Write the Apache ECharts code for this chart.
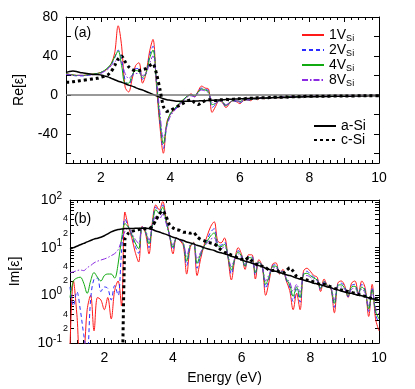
<!DOCTYPE html>
<html>
<head>
<meta charset="utf-8">
<script src="https://cdn.jsdelivr.net/npm/echarts@6/dist/echarts.min.js"></script>
<style>
html, body { margin: 0; padding: 0; background: #fff; }
#chart { width: 415px; height: 389px; }
</style>
</head>
<body>
<div id="chart"></div>
<script>
// photon energy (eV)
var energy = [
  1.0, 1.1, 1.2, 1.3, 1.4, 1.5, 1.6, 1.7, 1.8, 1.9,
  2.0, 2.1, 2.2, 2.3, 2.4, 2.5, 2.6, 2.7, 2.8, 2.9,
  3.0, 3.1, 3.2, 3.3, 3.4, 3.5, 3.6, 3.7, 3.8, 3.9,
  4.0, 4.1, 4.2, 4.3, 4.4, 4.5, 4.6, 4.7, 4.8, 4.9,
  5.0, 5.1, 5.2, 5.3, 5.4, 5.5, 5.6, 5.7, 5.8, 5.9,
  6.0, 6.1, 6.2, 6.3, 6.4, 6.5, 6.6, 6.7, 6.8, 6.9,
  7.0, 7.1, 7.2, 7.3, 7.4, 7.5, 7.6, 7.7, 7.8, 7.9,
  8.0, 8.1, 8.2, 8.3, 8.4, 8.5, 8.6, 8.7, 8.8, 8.9,
  9.0, 9.1, 9.2, 9.3, 9.4, 9.5, 9.6, 9.7, 9.8, 9.9,
  10.0
];

// ---- (a) Re[eps] ----
var v1Re = [
  22, 21, 20.5, 20, 20, 20, 20.5, 21, 21.5, 22,
  23, 24.5, 27, 32, 43, 71, 50, 8, 3, 16,
  30, 33, 12, 22, 44, 57, 10, -32, -60, -28,
  -20, -16, -12, -8, -4, -1, 1, -2, 4, 9,
  7, 6, -18, -12, -6, -8, -13, -9, -6, -7,
  -9, -6, -5, -6, -4, -5, -3, -4, -3, -3,
  -2, -3, -2, -2.5, -2, -1.5, -2, -1, -1.5, -1,
  -1.5, -1, -1, -1.5, -1, -1, -0.5, -1.2, -0.5, -1,
  -0.5, -1, -0.5, -0.5, -1, -0.5, -0.5, -0.8, -0.3, -0.5,
  -0.3
];
var v2Re = [
  21, 20.5, 20, 19.5, 19.5, 19.5, 20, 20.5, 21, 22,
  23, 24.5, 27, 31, 38, 46, 36, 15, 10, 18,
  27, 27, 16, 22, 40, 50, 12, -28, -55, -32,
  -20, -16, -12, -8, -4, -1, 0, -2, 3, 7,
  6, 4, -13, -10, -6, -8, -12, -8, -6, -7,
  -8, -6, -5, -5.5, -4, -4.5, -3, -4, -3, -3,
  -2, -2.8, -2, -2.3, -2, -1.5, -2, -1.2, -1.5, -1,
  -1.5, -1, -1, -1.4, -1, -1, -0.6, -1.1, -0.6, -1,
  -0.6, -0.9, -0.5, -0.6, -0.9, -0.5, -0.5, -0.7, -0.4, -0.5,
  -0.3
];
var v4Re = [
  22, 21, 20.5, 20, 20, 20, 20.5, 21, 21.5, 22,
  23, 25, 28, 32, 39, 45, 30, 12, 12, 20,
  25, 24, 18, 22, 37, 46, 14, -24, -50, -30,
  -19, -15, -11, -7, -4, -1, 0, -1, 3, 6,
  5, 3, -10, -9, -6, -7, -11, -8, -6, -6,
  -7, -5, -5, -5, -4, -4.5, -3, -3.8, -3, -3,
  -2, -2.7, -2, -2.2, -2, -1.6, -1.9, -1.2, -1.5, -1,
  -1.4, -1, -1, -1.3, -1, -1, -0.7, -1, -0.6, -0.9,
  -0.6, -0.9, -0.5, -0.6, -0.8, -0.5, -0.5, -0.7, -0.4, -0.5,
  -0.3
];
var v8Re = [
  21, 21, 20, 20, 20, 20, 20, 20.5, 21, 21.5,
  22, 24, 26, 30, 34, 36, 33, 22, 17, 20,
  22, 22, 20, 22, 32, 40, 16, -18, -44, -32,
  -22, -17, -13, -9, -5, -2, -1, -2, 2, 5,
  4, 2, -8, -9, -6, -7, -10, -8, -6, -6,
  -7, -5, -5, -5, -4, -4.2, -3, -3.6, -3, -3,
  -2.2, -2.6, -2, -2.2, -2, -1.7, -1.9, -1.3, -1.5, -1.1,
  -1.4, -1, -1, -1.3, -1, -1, -0.8, -1, -0.7, -0.9,
  -0.7, -0.9, -0.6, -0.6, -0.8, -0.5, -0.5, -0.7, -0.4, -0.5,
  -0.3
];
var aSiRe = [
  23, 24, 24.5, 24, 23, 22.5, 22, 21.5, 21, 21,
  20.5, 19.5, 18.5, 17, 15.5, 14, 13, 11.5, 10, 9,
  7.5, 6, 5, 3.5, 2, 0.5, -1, -2.5, -4, -5,
  -5.5, -6, -6.5, -6.5, -6.5, -6.5, -6.5, -6.3, -6.2, -6,
  -6, -5.8, -5.6, -5.4, -5.2, -5, -4.8, -4.6, -4.4, -4.2,
  -4, -3.9, -3.8, -3.6, -3.5, -3.4, -3.3, -3.2, -3.1, -3,
  -2.9, -2.8, -2.7, -2.6, -2.5, -2.4, -2.3, -2.2, -2.1, -2,
  -2, -1.9, -1.8, -1.8, -1.7, -1.6, -1.6, -1.5, -1.5, -1.4,
  -1.4, -1.3, -1.3, -1.2, -1.2, -1.1, -1.1, -1, -1, -1,
  -0.9
];
var cSiRe = [
  13, 13, 13.5, 14, 14.5, 15, 15.5, 16, 16.5, 17,
  18, 19, 20.5, 24, 30, 37, 40, 34, 29, 26,
  25, 25, 26, 27, 30, 32, 22, 6, -12, -17,
  -16, -14, -12, -10, -8, -6, -5, -8, -10, -8,
  -6, -5, -5, -6, -5, -5, -4.5, -5, -4.5, -4,
  -4, -4.5, -3.5, -3.5, -3.5, -3, -3, -3, -3, -2.5,
  -2.5, -2.5, -2.5, -2, -2.5, -2, -2, -2, -2, -1.5,
  -1.5, -1.5, -1.5, -1.5, -1.5, -1.5, -1.2, -1.2, -1.2, -1.2,
  -1.2, -1.2, -1.2, -1.2, -1, -1, -1, -1, -1, -1,
  -1
];

// ---- (b) Im[eps] ----
var v1Im = [
  0.08, 2.0, 0.4, 0.05, 0.06, 0.5, 1.0, 0.18, 0.9, 0.8,
  0.5, 0.9, 0.32, 1.25, 2.0, 0.6, 56, 28, 16, 8,
  5, 28, 20, 7.4, 35, 79, 62, 93, 40, 18,
  7.4, 16, 14, 11, 2.8, 10, 13, 2.6, 5.6, 11,
  18, 28, 35, 14, 12.6, 16, 6.3, 2.1, 5.6, 10,
  7.1, 3.5, 7.1, 7.1, 2.2, 5.6, 4.0, 1.0, 2.0, 4.5,
  4.8, 2.8, 3.5, 2.0, 1.26, 0.5, 1.1, 0.5, 3.2, 3.7,
  3.2, 2.6, 2.4, 1.2, 2.2, 1.6, 1.4, 0.43, 1.8, 2.0,
  1.6, 0.9, 1.8, 2.0, 1.1, 2.0, 1.4, 0.36, 1.7, 0.32,
  0.18
];
var v2Im = [
  1.5, 0.6, 1.2, 0.5, 0.15, 0.06, 0.8, 2.2, 2.3, 1.2,
  1.5, 1.4, 0.8, 1.6, 1.0, 8, 40, 27.5, 17.8, 10.7,
  7.6, 27.5, 21.4, 10, 32, 71, 56, 79, 40, 17.8,
  9.1, 15.8, 14.5, 12, 4.2, 10.7, 12.6, 3.7, 6.6, 10.7,
  15.1, 21.4, 25, 12.3, 11.2, 13.2, 6.5, 2.8, 5.8, 8.7,
  6.8, 3.9, 6.5, 6.5, 2.7, 5.2, 4.0, 1.4, 2.3, 4.2,
  4.4, 2.9, 3.4, 2.1, 1.5, 0.74, 1.35, 0.72, 2.9, 3.2,
  2.8, 2.4, 2.2, 1.3, 2.0, 1.6, 1.4, 0.56, 1.7, 1.8,
  1.5, 0.93, 1.6, 1.7, 1.1, 1.7, 1.26, 0.46, 1.45, 0.4,
  0.26
];
var v4Im = [
  0.9, 2.0, 2.3, 2.4, 1.8, 1.1, 2.0, 3.0, 2.4, 2.0,
  2.6, 2.8, 2.8, 2.3, 4.5, 15, 32, 27, 19, 12.6,
  9.5, 27, 22, 12, 30, 63, 52, 71, 35, 17.8,
  10.2, 15.8, 14.5, 12.3, 5.2, 11, 12.6, 4.7, 7.2, 10.5,
  13.8, 17.8, 20.4, 11.2, 10.5, 11.7, 6.6, 3.4, 5.9, 8.1,
  6.5, 4.1, 6.2, 6.0, 3.0, 5.0, 4.0, 1.7, 2.5, 4.0,
  4.1, 2.9, 3.2, 2.2, 1.66, 0.95, 1.5, 0.9, 2.7, 2.9,
  2.6, 2.3, 2.1, 1.4, 1.95, 1.55, 1.4, 0.68, 1.6, 1.66,
  1.4, 0.98, 1.5, 1.55, 1.07, 1.5, 1.2, 0.52, 1.3, 0.47,
  0.32
];
var v8Im = [
  3.0, 3.1, 3.3, 3.4, 3.3, 3.8, 4.2, 4.8, 5.2, 5.5,
  5.8, 6.2, 6.8, 7.5, 9, 14, 22, 26, 20, 15,
  12.3, 27, 23, 14.5, 29, 45, 40, 50, 32, 17.8,
  11.5, 15.8, 14.5, 12.6, 6.6, 11.5, 12.3, 5.8, 7.9, 10.5,
  12.6, 15.1, 16.2, 10.5, 9.5, 10.5, 6.8, 4.0, 6.0, 7.4,
  6.3, 4.4, 5.9, 5.6, 3.3, 4.8, 4.0, 2.0, 2.75, 3.8,
  3.8, 2.95, 3.2, 2.3, 1.9, 1.2, 1.7, 1.15, 2.5, 2.6,
  2.4, 2.1, 2.0, 1.45, 1.9, 1.55, 1.45, 0.8, 1.5, 1.5,
  1.35, 1.0, 1.35, 1.4, 1.05, 1.35, 1.1, 0.6, 1.2, 0.54,
  0.4
];
var aSiIm = [
  9.3, 10, 10.7, 11.5, 12.3, 13.2, 14.1, 15.1, 15.8, 16.6,
  17.8, 19.5, 21.4, 22.9, 24, 24.5, 25.1, 25.1, 25.1, 25.7,
  25.7, 25.7, 25.7, 25.1, 24, 22.4, 21.4, 20, 19, 17.8,
  16.6, 15.8, 14.8, 14.1, 13.2, 12.6, 12, 11.2, 10.7, 10,
  9.5, 9.1, 8.7, 8.1, 7.8, 7.4, 7.1, 6.6, 6.3, 5.9,
  5.6, 5.2, 5.0, 4.7, 4.5, 4.2, 4.0, 3.7, 3.5, 3.3,
  3.2, 3.0, 2.9, 2.7, 2.6, 2.45, 2.3, 2.2, 2.1, 2.0,
  1.9, 1.8, 1.74, 1.66, 1.58, 1.5, 1.45, 1.35, 1.3, 1.23,
  1.17, 1.12, 1.1, 1.05, 1.0, 0.98, 0.93, 0.89, 0.85, 0.83,
  0.8
];
var cSiIm = [
  null, null, null, null, null, null, null, null, null, null,
  null, null, null, null, null, 0.001, 15, 20, 22, 23,
  24, 25, 25, 25, 28, 38, 50, 60, 45, 30,
  26, 24, 23, 21, 21, 20, 21, 17, 15, 14,
  13, 12.5, 12, 10.5, 9, 8, 7.5, 7, 6.6, 6,
  5.7, 5.5, 6.2, 5.2, 4.6, 4.2, 4.1, 3.8, 3.4, 3.3,
  3.4, 3.1, 2.9, 3.3, 3.8, 3.2, 2.5, 2.3, 2.2, 2.1,
  2.0, 1.9, 1.8, 1.7, 1.7, 1.6, 1.5, 1.4, 1.35, 1.3,
  1.25, 1.2, 1.15, 1.1, 1.05, 1.0, 0.95, 0.9, 0.85, 0.82,
  0.8
];

// tick labels
var reTicks = [-40, 0, 40, 80];
var reMinor = [-60, -40, -20, 0, 20, 40, 60, 80];
var imDecades = [-1, 0, 1, 2];
var imSub = [2, 4];

var FONT = '"Liberation Sans", Arial, sans-serif';

function pts(ys, isLog) {
  return energy.map(function (e, i) {
    var v = ys[i];
    if (v == null) return [e, null];
    return [e, isLog ? Math.log10(v) : v];
  });
}

var subLabels = [], logTicks = [];
imDecades.forEach(function (d) {
  if (d < 2) {
    imSub.forEach(function (m) { subLabels.push(d + Math.log10(m)); });
    for (var m = 2; m <= 9; m++) logTicks.push(d + Math.log10(m));
  }
  logTicks.push(d);
});

var styles = {
  '1V': { color: '#ff1a1a', type: 'solid', width: 1 },
  '2V': { color: '#2b2bff', type: [4, 3], width: 1 },
  '4V': { color: '#11aa11', type: 'solid', width: 1 },
  '8V': { color: '#8a2be2', type: [6, 2, 1.5, 2], width: 1 },
  'a-Si': { color: '#000', type: 'solid', width: 1.5 },
  'c-Si': { color: '#000', type: [3, 3], width: 3 }
};

function line(name, ys, xi, yi, isLog) {
  return {
    name: name, type: 'line', xAxisIndex: xi, yAxisIndex: yi,
    data: pts(ys, isLog), showSymbol: false, symbol: 'none',
    smooth: name === 'c-Si' ? 0.2 : 0.35,
    lineStyle: styles[name], itemStyle: { color: styles[name].color },
    z: name === 'c-Si' ? 5 : (name === 'a-Si' ? 4 : 3),
    animation: false, clip: true
  };
}

function boxAxis(grid, pos, extra) {
  var a = {
    type: 'value', gridIndex: grid, position: pos,
    axisLine: { show: true, onZero: false, lineStyle: { color: '#000', width: 1 } },
    axisTick: { show: true, inside: true, length: 5, lineStyle: { color: '#000' } },
    minorTick: { show: true, splitNumber: 5, length: 3, lineStyle: { color: '#000' } },
    splitLine: { show: false }, minorSplitLine: { show: false },
    axisLabel: { show: false, fontFamily: FONT, fontSize: 14, color: '#000' }
  };
  for (var k in extra) a[k] = extra[k];
  return a;
}

var xCommon = { min: 1, max: 10, interval: 1 };
function xAxisFor(grid, pos, labels) {
  var a = boxAxis(grid, pos, xCommon);
  if (labels) {
    a.axisLabel.show = true;
    a.axisLabel.margin = 8;
    a.axisLabel.formatter = function (v) { return v % 2 === 0 ? String(v) : ''; };
  }
  return a;
}

var chart = echarts.init(document.getElementById('chart'));

var xAxes = [
  xAxisFor(0, 'bottom', true),
  xAxisFor(0, 'top', false),
  xAxisFor(1, 'bottom', true),
  xAxisFor(1, 'top', false)
];
xAxes[2].name = 'Energy (eV)';
xAxes[2].nameLocation = 'middle';
xAxes[2].nameGap = 28;
xAxes[2].nameTextStyle = { fontFamily: FONT, fontSize: 14, color: '#000' };

function reAxis(pos, labels) {
  var a = boxAxis(0, pos, { min: -70, max: 80 });
  a.minorTick = { show: false };
  a.axisTick.customValues = reMinor;
  a.axisLabel.customValues = reTicks;
  a.axisLabel.show = labels;
  a.axisLabel.margin = 8;
  return a;
}
var yAxes = [reAxis('left', true), reAxis('right', false)];
yAxes[0].name = 'Re[\u03b5]';
yAxes[0].nameLocation = 'middle';
yAxes[0].nameGap = 40;
yAxes[0].nameTextStyle = { fontFamily: FONT, fontSize: 14, color: '#000' };

function imAxis(pos) {
  var a = boxAxis(1, pos, { min: -1, max: 2 });
  a.minorTick = { show: false };
  a.axisTick.customValues = logTicks;
  a.axisTick.length = 4;
  return a;
}
var imLeft = imAxis('left');
imLeft.axisLabel.show = true;
imLeft.axisLabel.customValues = imDecades;
imLeft.axisLabel.margin = 8;
imLeft.axisLabel.formatter = function (v) { return '10{sup|' + Math.round(v) + '}'; };
imLeft.axisLabel.rich = { sup: { fontFamily: FONT, fontSize: 10, color: '#000', padding: [0, 0, 8, 0] } };
imLeft.name = 'Im[\u03b5]';
imLeft.nameLocation = 'middle';
imLeft.nameGap = 48;
imLeft.nameTextStyle = { fontFamily: FONT, fontSize: 14, color: '#000' };

var imLeftSub = imAxis('left');
imLeftSub.axisLine.show = false;
imLeftSub.axisTick.show = false;
imLeftSub.axisLabel.show = true;
imLeftSub.axisLabel.customValues = subLabels;
imLeftSub.axisLabel.margin = 2;
imLeftSub.axisLabel.fontSize = 9;
imLeftSub.axisLabel.formatter = function (v) {
  return String(Math.round(Math.pow(10, v - Math.floor(v + 1e-9))));
};

yAxes.push(imLeft, imLeftSub, imAxis('right'));

var series = [
  line('1V', v1Re, 0, 0, false),
  line('2V', v2Re, 0, 0, false),
  line('4V', v4Re, 0, 0, false),
  line('8V', v8Re, 0, 0, false),
  line('a-Si', aSiRe, 0, 0, false),
  line('c-Si', cSiRe, 0, 0, false),
  line('1V', v1Im, 2, 2, true),
  line('2V', v2Im, 2, 2, true),
  line('4V', v4Im, 2, 2, true),
  line('8V', v8Im, 2, 2, true),
  line('a-Si', aSiIm, 2, 2, true),
  line('c-Si', cSiIm, 2, 2, true)
];
series[4].markLine = {
  silent: true, symbol: 'none', label: { show: false }, animation: false,
  lineStyle: { color: '#777', width: 1.5, type: 'solid' },
  data: [{ yAxis: 0 }]
};

var legendText = { fontFamily: FONT, fontSize: 14, color: '#000' };
chart.setOption({
  backgroundColor: '#fff',
  animation: false,
  grid: [
    { left: 66, right: 36, top: 17, height: 146 },
    { left: 66, right: 36, top: 200, height: 143 }
  ],
  title: [
    { text: '(a)', left: 69, top: 21, textStyle: { fontFamily: FONT, fontSize: 14, fontWeight: 'normal', color: '#000' } },
    { text: '(b)', left: 69, top: 207, textStyle: { fontFamily: FONT, fontSize: 14, fontWeight: 'normal', color: '#000' } }
  ],
  legend: [
    {
      data: ['1V', '2V', '4V', '8V'], orient: 'vertical', left: 296, top: 23,
      itemWidth: 22, itemHeight: 8, itemGap: 0, selectedMode: false,
      itemStyle: { opacity: 0 },
      formatter: function (n) { return n + '{s|Si}'; },
      textStyle: {
        fontFamily: FONT, fontSize: 14, color: '#000',
        rich: { s: { fontFamily: FONT, fontSize: 9, color: '#000', padding: [7, 0, 0, 0] } }
      }
    },
    {
      data: ['a-Si', 'c-Si'], orient: 'vertical', left: 308, top: 114,
      itemWidth: 22, itemHeight: 8, itemGap: 0, selectedMode: false,
      itemStyle: { opacity: 0 },
      textStyle: legendText
    }
  ],
  xAxis: xAxes,
  yAxis: yAxes,
  series: series
});
</script>
</body>
</html>
